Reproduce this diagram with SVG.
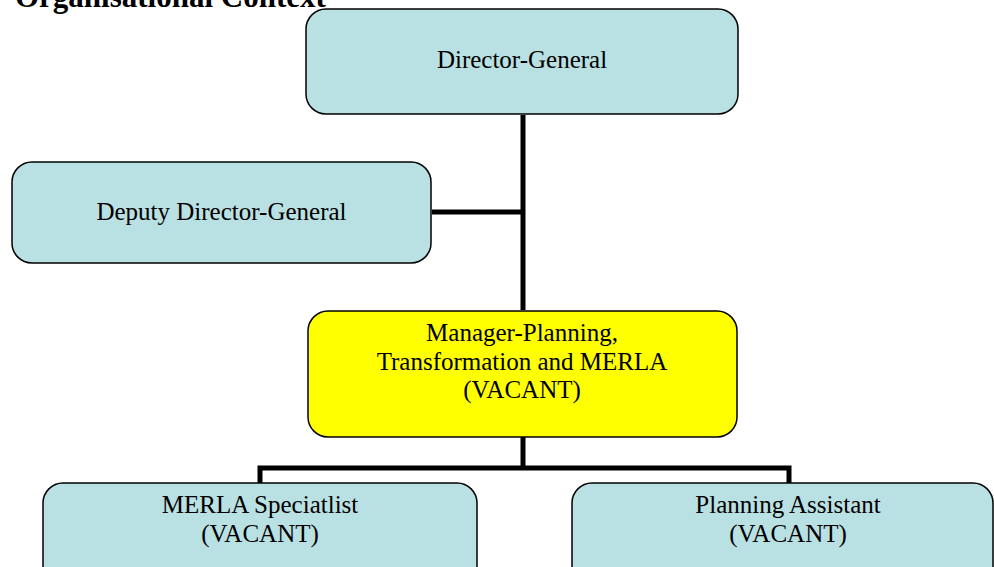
<svg xmlns="http://www.w3.org/2000/svg" width="994" height="567" viewBox="0 0 994 567">
<style>
.box{fill:#B9E0E3;stroke:#000;stroke-width:1.5}
.vac{fill:#FFFF00;stroke:#000;stroke-width:1.5}
.t{font-family:"Liberation Serif","Times New Roman",serif;font-size:25px;fill:#000;text-anchor:middle}
.title{font-family:"Liberation Serif","Times New Roman",serif;font-size:31px;font-weight:bold;fill:#000}
.c{stroke:#000;stroke-width:5;fill:none;stroke-linecap:butt;stroke-linejoin:miter}
</style>
<rect width="994" height="567" fill="#fff"/>
<text class="title" x="15" y="7">Organisational Context</text>
<g id="connectors">
<line class="c" x1="523" y1="115" x2="523" y2="310"/>
<line class="c" x1="432" y1="212" x2="523" y2="212"/>
<line class="c" x1="523" y1="437" x2="523" y2="468"/>
<polyline class="c" points="260,483 260,468 789,468 789,483"/>
</g>
<g id="director-general">
<rect class="box" x="306" y="9" width="432" height="105" rx="20" ry="20"/>
<text class="t" x="522" y="68">Director-General</text>
</g>
<g id="deputy-director-general">
<rect class="box" x="12" y="162" width="419" height="101" rx="20" ry="20"/>
<text class="t" x="221.5" y="220">Deputy Director-General</text>
</g>
<g id="manager">
<rect class="vac" x="308" y="311" width="429" height="126" rx="20" ry="20"/>
<text class="t" x="522" y="341">Manager-Planning,</text>
<text class="t" x="522" y="369.5">Transformation and MERLA</text>
<text class="t" x="522" y="398">(VACANT)</text>
</g>
<g id="merla-specialist">
<rect class="box" x="43" y="483" width="434" height="120" rx="20" ry="20"/>
<text class="t" x="260" y="513">MERLA Speciatlist</text>
<text class="t" x="260" y="542">(VACANT)</text>
</g>
<g id="planning-assistant">
<rect class="box" x="572" y="483" width="421" height="120" rx="20" ry="20"/>
<text class="t" x="788" y="513">Planning Assistant</text>
<text class="t" x="788" y="542">(VACANT)</text>
</g>
</svg>
